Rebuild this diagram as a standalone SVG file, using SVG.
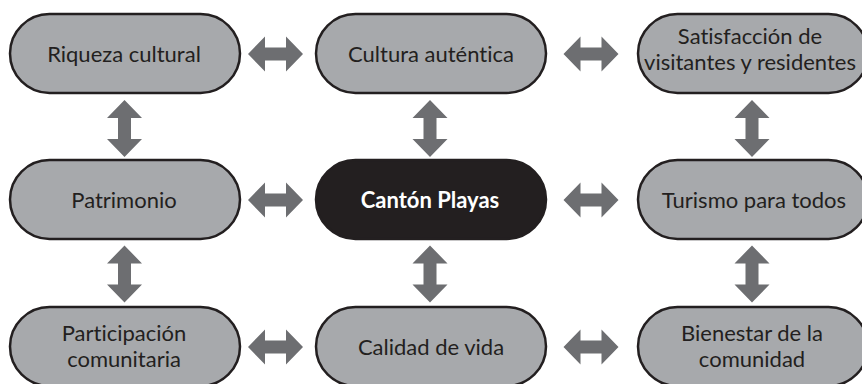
<svg xmlns="http://www.w3.org/2000/svg" width="862" height="384" viewBox="0 0 862 384">
<style>
text{font-variant-ligatures:none;font-feature-settings:"liga" 0,"dlig" 0}
.node rect{fill:#a7a9ac;stroke:#231f20;stroke-width:2.5}
.node text{font-family:Lato,"Open Sans",sans-serif;font-size:22px;fill:#231f20;text-anchor:middle}
.center rect{fill:#231f20;stroke:#231f20;stroke-width:2.5}
.center text{font-family:Lato,"Open Sans",sans-serif;font-size:22px;font-weight:bold;fill:#ffffff;text-anchor:middle}
.arr{fill:#6d6e71}
</style>
<defs>
<path id="h" d="M-27.5,0 L-10.5,-17.5 L-10.5,-6.5 L10.5,-6.5 L10.5,-17.5 L27.5,0 L10.5,17.5 L10.5,6.5 L-10.5,6.5 L-10.5,17.5 Z"/>
<path id="v" d="M0,-28.5 L17.5,-10.5 L6.5,-10.5 L6.5,10.5 L17.5,10.5 L0,28.5 L-17.5,10.5 L-6.5,10.5 L-6.5,-10.5 L-17.5,-10.5 Z"/>
</defs>
<rect width="862" height="384" fill="#ffffff"/>
<g id="connectors" class="arr">
<use href="#h" x="275.5" y="54"/>
<use href="#h" x="591" y="54"/>
<use href="#h" x="275.5" y="200"/>
<use href="#h" x="591" y="200"/>
<use href="#h" x="275.5" y="347"/>
<use href="#h" x="591" y="347"/>
<use href="#v" x="124.5" y="128.5"/>
<use href="#v" x="430" y="128.5"/>
<use href="#v" x="752" y="128.5"/>
<use href="#v" x="124.5" y="274"/>
<use href="#v" x="430" y="274"/>
<use href="#v" x="752" y="274"/>
</g>
<g id="riqueza" class="node"><rect x="10" y="14" width="230" height="79" rx="39.5"/><text x="124" y="62">Riqueza cultural</text></g>
<g id="cultura" class="node"><rect x="316" y="14" width="230" height="79" rx="39.5"/><text x="431" y="62">Cultura auténtica</text></g>
<g id="satisfaccion" class="node"><rect x="638" y="14" width="230" height="79" rx="39.5"/><text x="750" y="43.5">Satisfacción de</text><text x="750" y="70">visitantes y residentes</text></g>
<g id="patrimonio" class="node"><rect x="10" y="160" width="230" height="79" rx="39.5"/><text x="124" y="208">Patrimonio</text></g>
<g id="canton" class="center"><rect x="316" y="160" width="230" height="79" rx="39.5"/><text x="430" y="208">Cantón Playas</text></g>
<g id="turismo" class="node"><rect x="638" y="160" width="230" height="79" rx="39.5"/><text x="754" y="208">Turismo para todos</text></g>
<g id="participacion" class="node"><rect x="10" y="307" width="230" height="79" rx="39.5"/><text x="124" y="340.5">Participación</text><text x="124" y="367">comunitaria</text></g>
<g id="calidad" class="node"><rect x="316" y="307" width="230" height="79" rx="39.5"/><text x="431" y="355">Calidad de vida</text></g>
<g id="bienestar" class="node"><rect x="638" y="307" width="230" height="79" rx="39.5"/><text x="752" y="340.5">Bienestar de la</text><text x="752" y="367">comunidad</text></g>
</svg>
